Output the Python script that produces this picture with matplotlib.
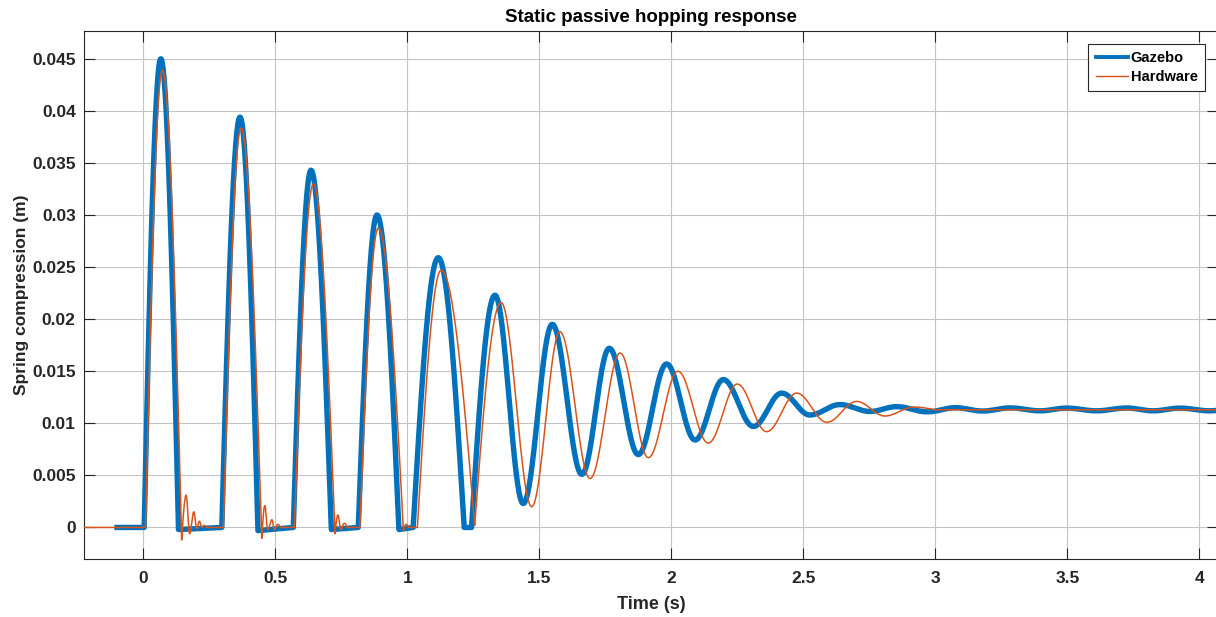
import numpy as np
import matplotlib
matplotlib.use("Agg")
import matplotlib.pyplot as plt

# Gazebo simulation trace: knot times (s), spring compression (m) and the
# knot type ('s' = smooth turning point, 'c' = corner such as touchdown/lift-off)
gazebo_t = [-0.100, 0.003, 0.066, 0.133, 0.297, 0.366, 0.434, 0.568, 0.635, 0.712,
            0.814, 0.885, 0.968, 1.022, 1.117, 1.215, 1.243, 1.332, 1.439, 1.549,
            1.661, 1.765, 1.875, 1.982, 2.090, 2.197, 2.311, 2.418, 2.525, 2.639,
            2.752, 2.854, 2.970, 3.075, 3.180, 3.283, 3.397, 3.498, 3.611, 3.725,
            3.826, 3.927, 4.040, 4.100]
gazebo_v = [0.0, 0.0, 0.0450, -0.0002, 0.0, 0.0394, -0.0003, 0.0, 0.0343, -0.0002,
            0.0, 0.0300, -0.0002, 0.0, 0.0259, 0.0, 0.0, 0.0223, 0.0023, 0.0195,
            0.0051, 0.0172, 0.0070, 0.0157, 0.0084, 0.0142, 0.0097, 0.0129, 0.0108, 0.0118,
            0.01114, 0.0116, 0.0111, 0.0115, 0.01118, 0.01148, 0.0112, 0.01146, 0.0112, 0.01147,
            0.0112, 0.01146, 0.0112, 0.0113]
gazebo_k = ["c", "c", "s", "c", "c", "s", "c", "c", "s", "c",
            "c", "s", "c", "c", "s", "c", "c", "s", "s", "s",
            "s", "s", "s", "s", "s", "s", "s", "s", "s", "s",
            "s", "s", "s", "s", "s", "s", "s", "s", "s", "s",
            "s", "s", "s", "s"]

# Hardware measurement trace
hardware_t = [-0.230, 0.008, 0.072, 0.145, 0.162, 0.175, 0.191, 0.202, 0.212, 0.222,
              0.230, 0.240, 0.303, 0.370, 0.4485, 0.460, 0.471, 0.487, 0.496, 0.509,
              0.520, 0.572, 0.644, 0.726, 0.737, 0.748, 0.761, 0.772, 0.820, 0.890,
              0.985, 0.995, 1.005, 1.038, 1.128, 1.255, 1.355, 1.471, 1.578, 1.692,
              1.806, 1.913, 2.025, 2.140, 2.250, 2.361, 2.475, 2.589, 2.702, 2.809,
              2.917, 3.000, 4.100]
hardware_v = [0.0, 0.0, 0.0439, -0.0012, 0.0031, -0.0006, 0.0015, -0.0001, 0.0006, 0.0,
              0.0002, 0.0, 0.0, 0.03835, -0.00105, 0.0021, -0.0002, 0.00074, -0.0002, 0.0003,
              0.0, 0.0, 0.0330, -0.0006, 0.0012, -0.0002, 0.0004, 0.0, 0.0, 0.02875,
              -0.0003, 0.0003, 0.0, 0.0, 0.0247, 0.0002, 0.0216, 0.0020, 0.0188, 0.0047,
              0.01675, 0.0067, 0.0150, 0.0081, 0.01377, 0.0092, 0.0129, 0.0101, 0.0121, 0.0107,
              0.01156, 0.0113, 0.0113]
hardware_k = ["c", "c", "s", "c", "s", "s", "s", "s", "s", "s",
              "s", "c", "c", "s", "c", "s", "s", "s", "s", "s",
              "c", "c", "s", "c", "s", "s", "s", "c", "c", "s",
              "c", "s", "c", "c", "s", "c", "s", "s", "s", "s",
              "s", "s", "s", "s", "s", "s", "s", "s", "s", "s",
              "s", "c", "c"]

x_ticks = [0, 0.5, 1, 1.5, 2, 2.5, 3, 3.5, 4]
x_tick_labels = ["0", "0.5", "1", "1.5", "2", "2.5", "3", "3.5", "4"]
y_ticks = [0, 0.005, 0.01, 0.015, 0.02, 0.025, 0.03, 0.035, 0.04, 0.045]
y_tick_labels = ["0", "0.005", "0.01", "0.015", "0.02", "0.025", "0.03", "0.035", "0.04", "0.045"]


def trace(t, v, kinds, n=60):
    """Join the knots with quarter/half-wave segments that respect the knot type."""
    ts, vs = [], []
    for i in range(len(t) - 1):
        u = np.linspace(0.0, 1.0, n, endpoint=False)
        ka, kb = kinds[i], kinds[i + 1]
        if ka == "s" and kb == "s":
            w = (1 - np.cos(np.pi * u)) / 2
        elif ka == "s":
            w = 1 - np.cos(np.pi / 2 * u)
        elif kb == "s":
            w = np.sin(np.pi / 2 * u)
        else:
            w = u
        ts.append(t[i] + (t[i + 1] - t[i]) * u)
        vs.append(v[i] + (v[i + 1] - v[i]) * w)
    ts.append([t[-1]])
    vs.append([v[-1]])
    return np.concatenate(ts), np.concatenate(vs)


plt.rcParams["font.family"] = ["Liberation Sans", "DejaVu Sans"]
plt.rcParams["font.weight"] = "bold"
plt.rcParams["axes.labelweight"] = "bold"

W, H = 1216, 617
fig = plt.figure(figsize=(W / 100, H / 100), dpi=100)
left, right, bottom, top = 84, 1218, 558.7, 30.7
ax = fig.add_axes([left / W, 1 - bottom / H, (right - left) / W, (bottom - top) / H])

blue = "#0072BD"
orange = "#D95319"
tx, vx = trace(gazebo_t, gazebo_v, gazebo_k)
ax.plot(tx, vx, color=blue, lw=3.9, solid_joinstyle="round", label="Gazebo", zorder=3)
tx, vx = trace(hardware_t, hardware_v, hardware_k)
ax.plot(tx, vx, color=orange, lw=1.1, label="Hardware", zorder=4)

ax.set_xlim(-0.225, 4.071)
ax.set_ylim(-0.003, 0.0477)
ax.set_xticks(x_ticks)
ax.set_xticklabels(x_tick_labels)
ax.set_yticks(y_ticks)
ax.set_yticklabels(y_tick_labels)

spine_c = "#262626"
for s in ax.spines.values():
    s.set_color(spine_c)
    s.set_linewidth(0.8)
ax.tick_params(direction="in", length=8, width=0.8, color=spine_c,
               top=True, right=True, labelsize=12.5, labelcolor="#262626")
ax.tick_params(axis="x", pad=9)
ax.tick_params(axis="y", pad=6)
ax.grid(True, color="#c4c4c4", lw=0.8)
ax.set_axisbelow(True)

ax.set_title("Static passive hopping response", fontsize=13.5, fontweight="bold",
             color="black", pad=6)
ax.set_xlabel("Time (s)", fontsize=13, fontweight="bold", color="#262626", labelpad=7)
ax.set_ylabel("Spring compression (m)", fontsize=12.5, fontweight="bold", color="#262626",
              labelpad=2)

leg = ax.legend(loc="upper right", bbox_to_anchor=(1205 / W, 1 - 44 / H),
                bbox_transform=fig.transFigure, borderaxespad=0, fontsize=10.5,
                frameon=True, fancybox=False, framealpha=1, edgecolor="#262626",
                handlelength=2.2, handletextpad=0.2, borderpad=0.5, labelspacing=0.3)
leg.get_frame().set_linewidth(0.8)
leg.get_lines()[0].set_linewidth(2.8)
leg.get_lines()[1].set_linewidth(1.0)

fig.savefig("out.png", dpi=100)
